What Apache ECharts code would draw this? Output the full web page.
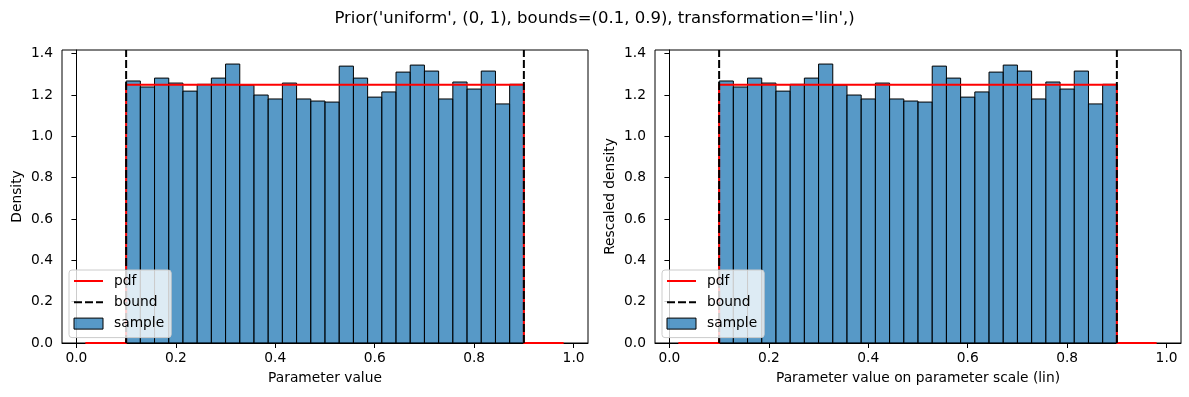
<!DOCTYPE html>
<html>
<head>
<meta charset="utf-8">
<script src="https://cdn.jsdelivr.net/npm/echarts@6/dist/echarts.min.js"></script>
<style>
  html, body { margin: 0; padding: 0; background: #fff; }
  #chart { width: 1189px; height: 397px; }
</style>
</head>
<body>
<div id="chart"></div>
<script>
// histogram bin heights (density), 28 equal bins between the bounds
const binHeights = [
  1.268, 1.239, 1.282, 1.258, 1.219, 1.252, 1.282, 1.350, 1.248, 1.200,
  1.181, 1.258, 1.181, 1.171, 1.166, 1.340, 1.282, 1.190, 1.215, 1.311,
  1.345, 1.316, 1.181, 1.263, 1.229, 1.316, 1.157, 1.252
];
const lowerBound = 0.1;
const upperBound = 0.9;
const pdfX = [0.018, 0.1, 0.1, 0.9, 0.9, 0.98];
const pdfY = [0, 0, 1.25, 1.25, 0, 0];
const xTicks = [0, 0.2, 0.4, 0.6, 0.8, 1.0];
const yTicks = [0, 0.2, 0.4, 0.6, 0.8, 1.0, 1.2, 1.4];
const xRange = [-0.029, 1.029];
const yRange = [0, 1.418];

const FONT = "DejaVu Sans";
const barColor = "rgba(31,119,180,0.75)";

const binWidth = (upperBound - lowerBound) / binHeights.length;
const binData = binHeights.map((h, i) => [
  lowerBound + i * binWidth,
  lowerBound + (i + 1) * binWidth,
  h,
]);
const pdfData = pdfX.map((x, i) => [x, pdfY[i]]);

function renderBin(params, api) {
  const p0 = api.coord([api.value(0), api.value(2)]);
  const p1 = api.coord([api.value(1), 0]);
  return {
    type: "rect",
    shape: { x: p0[0], y: p0[1], width: p1[0] - p0[0], height: p1[1] - p0[1] },
    style: { fill: barColor, stroke: "#000", lineWidth: 1 },
  };
}

const grids = [
  { left: 62, top: 50, width: 526, height: 293 },
  { left: 655, top: 50, width: 526, height: 293 },
];

function xAxisFor(i, name) {
  return {
    type: "value",
    gridIndex: i,
    min: xRange[0],
    max: xRange[1],
    name: name,
    nameLocation: "middle",
    nameGap: 28,
    nameTextStyle: { color: "#000", fontFamily: FONT, fontSize: 13.8 },
    axisLine: { show: true, lineStyle: { color: "#000", width: 1 } },
    axisTick: { show: true, length: 5, customValues: xTicks, lineStyle: { color: "#000", width: 1 } },
    axisLabel: {
      customValues: xTicks,
      formatter: (v) => v.toFixed(1),
      color: "#000",
      fontFamily: FONT,
      fontSize: 13.8,
      margin: 8,
    },
    splitLine: { show: false },
  };
}

function yAxisFor(i, name) {
  return {
    type: "value",
    gridIndex: i,
    min: yRange[0],
    max: yRange[1],
    name: name,
    nameLocation: "middle",
    nameGap: 38,
    nameTextStyle: { color: "#000", fontFamily: FONT, fontSize: 13.8 },
    axisLine: { show: true, lineStyle: { color: "#000", width: 1 } },
    axisTick: { show: true, length: 5, customValues: yTicks, lineStyle: { color: "#000", width: 1 } },
    axisLabel: {
      customValues: yTicks,
      formatter: (v) => v.toFixed(1),
      color: "#000",
      fontFamily: FONT,
      fontSize: 13.8,
      margin: 9,
    },
    splitLine: { show: false },
  };
}

function seriesFor(i) {
  return [
    {
      name: "sample",
      type: "custom",
      xAxisIndex: i,
      yAxisIndex: i,
      renderItem: renderBin,
      encode: { x: [0, 1], y: 2 },
      itemStyle: { color: barColor, borderColor: "#000", borderWidth: 1 },
      data: binData,
      z: 1,
    },
    {
      name: "pdf",
      type: "line",
      xAxisIndex: i,
      yAxisIndex: i,
      symbol: "none",
      lineStyle: { color: "#ff0000", width: 2 },
      itemStyle: { color: "#ff0000" },
      data: pdfData,
      z: 3,
    },
    ...[lowerBound, upperBound].map((b) => ({
      name: "bound",
      type: "line",
      xAxisIndex: i,
      yAxisIndex: i,
      symbol: "none",
      lineStyle: { color: "#000", width: 2, type: [8, 3] },
      itemStyle: { color: "#000" },
      data: [[b, yRange[0]], [b, yRange[1]]],
      z: 4,
    })),
  ];
}

// legend line icons: hide the marker ECharts adds in the middle
const noMarker = { opacity: 0 };

function legendAt(left) {
  return {
    orient: "vertical",
    left: left,
    top: 270,
    z: 10,
    itemWidth: 29,
    itemHeight: 11,
    itemGap: 7.3,
    padding: [4, 7, 7, 4],
    backgroundColor: "rgba(255,255,255,0.8)",
    borderColor: "#cccccc",
    borderWidth: 1,
    borderRadius: 3,
    selectedMode: false,
    textStyle: { color: "#000", fontFamily: FONT, fontSize: 13.8, lineHeight: 14, padding: [0, 0, 0, 6] },
    data: [
      { name: "pdf", itemStyle: noMarker },
      { name: "bound", itemStyle: noMarker },
      { name: "sample", icon: "rect", itemStyle: { color: barColor, borderColor: "#000", borderWidth: 1 } },
    ],
  };
}

const chart = echarts.init(document.getElementById("chart"), null, { renderer: "canvas" });

chart.setOption({
  animation: false,
  title: {
    text: "Prior('uniform', (0, 1), bounds=(0.1, 0.9), transformation='lin',)",
    left: "center",
    top: 10,
    padding: 0,
    textStyle: { color: "#000", fontFamily: FONT, fontSize: 16.5, fontWeight: "normal" },
  },
  grid: grids.map((g) => ({ ...g, show: true, borderColor: "#000", borderWidth: 1, containLabel: false })),
  legend: [legendAt(69), legendAt(662)],
  xAxis: [xAxisFor(0, "Parameter value"), xAxisFor(1, "Parameter value on parameter scale (lin)")],
  yAxis: [yAxisFor(0, "Density"), yAxisFor(1, "Rescaled density")],
  series: [...seriesFor(0), ...seriesFor(1)],
});
</script>
</body>
</html>
